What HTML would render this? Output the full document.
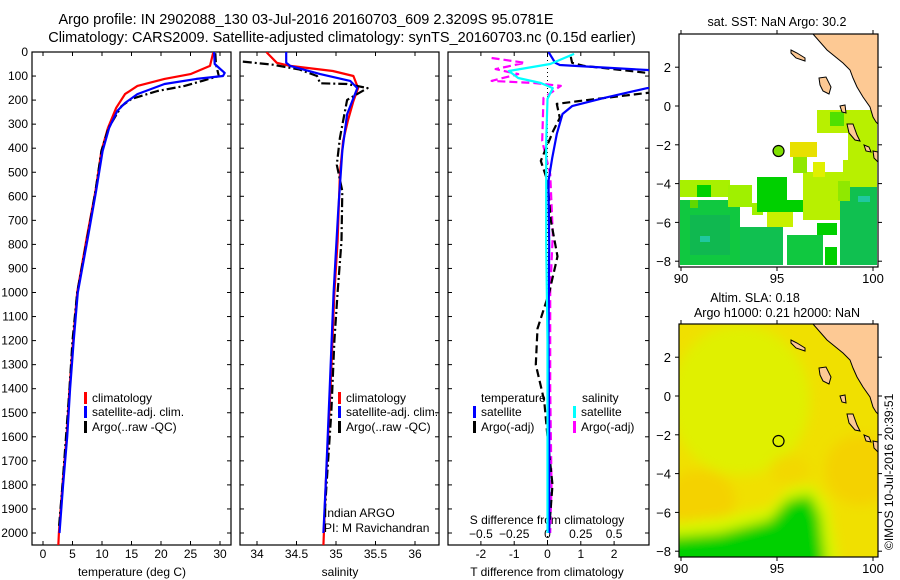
<!DOCTYPE html>
<html><head><meta charset="utf-8"><style>
html,body{margin:0;padding:0;background:#fff;width:900px;height:580px;overflow:hidden}
svg{display:block;font-family:"Liberation Sans",sans-serif}
text{font-size:12px;fill:#000}
</style></head><body>
<svg id="root" width="900" height="580" viewBox="0 0 900 580">
<defs>
<clipPath id="c1"><rect x="32" y="52" width="199" height="493"/></clipPath>
<clipPath id="c2"><rect x="240" y="52" width="199" height="493"/></clipPath>
<clipPath id="c3"><rect x="448" y="52" width="201" height="493"/></clipPath>
<clipPath id="cm1"><rect x="679" y="34" width="199" height="233"/></clipPath>
<clipPath id="cm2"><rect x="679" y="324" width="199" height="233"/></clipPath>
<filter id="blur" x="-30%" y="-30%" width="160%" height="160%"><feGaussianBlur stdDeviation="6"/></filter>
</defs>
<text x="306" y="24" text-anchor="middle" style="font-size:14.5px">Argo profile: IN 2902088_130 03-Jul-2016 20160703_609 2.3209S 95.0781E</text>
<text x="342" y="42" text-anchor="middle" style="font-size:14.5px">Climatology: CARS2009. Satellite-adjusted climatology: synTS_20160703.nc (0.15d earlier)</text>
<g id="axes"></g>
<g id="maps"></g>
<text transform="translate(893,550) rotate(-90)" style="font-size:12px">©IMOS 10-Jul-2016 20:39:51</text>
</svg>
<script>
// ---- profile data (depth in m) ----
const tempClimDepth=[0,8,58,92,112,141,175,232,316,412,578,773,1000,1200,1400,1600,1800,1900,2000,2054];
const tempClimVal=[29,28.8,28.3,25,20.6,16,13.9,12.4,11,9.9,8.9,7.4,5.8,5.1,4.5,4.0,3.3,3.0,2.7,2.6];
const tempSatDepth=[0,50,87,100,112,133,175,212,245,316,412,578,773,1000,1200,1400,1600,1800,2000];
const tempSatVal=[29,29.1,30.8,30.5,26,20.6,16,13.9,12.6,11.2,10.1,9.0,7.6,5.9,5.2,4.6,4.1,3.4,2.8];
const tempArgoDepth=[5,50,100,120,141,162,195,225,316,412,578,773,1000,1200,1400,1600,1800,1980];
const tempArgoVal=[29.2,29.3,29.8,27,24,19.4,15,13.3,11.1,9.9,8.9,7.5,5.8,5.0,4.5,3.9,3.3,2.7];
const salClimDepth=[0,8,45,58,79,100,150,204,287,370,507,786,1000,1400,1800,2054];
const salClimVal=[34.12,34.14,34.25,34.42,34.96,35.22,35.28,35.22,35.15,35.09,35.05,35.02,34.98,34.93,34.87,34.84];
const salSatDepth=[0,45,58,92,120,150,259,412,648,1000,1400,1800,2000];
const salSatVal=[34.37,34.37,34.42,34.8,35.18,35.27,35.14,35.08,35.03,34.97,34.92,34.87,34.84];
const salArgoDepth=[40,53,73,100,130,133,150,199,287,357,469,578,786,1000,1200,1500,1800,1960];
const salArgoVal=[33.82,34.2,34.54,34.76,34.8,35.14,35.4,35.14,35.09,35.05,35.01,35.08,35.07,35.02,34.98,34.94,34.88,34.85];
const dTSatDepth=[0,45,54,75,100,140,150,191,225,258,341,441,536,800,1200,1600,2000];
const dTSatVal=[0.03,0.23,0.37,3,6,6,3,1.7,0.74,0.45,0.28,0.14,0.03,0.05,0.03,0.05,0.05];
const dTArgoDepth=[20,45,58,87,100,150,170,204,216,274,328,453,536,700,850,1000,1150,1300,1450,1600,1800,1980];
const dTArgoVal=[0.7,0.74,1.1,3,6,6,3,0.93,0.28,0.37,0.17,-0.2,0,0.1,0.3,0.05,-0.3,-0.35,-0.1,0,0.15,0.05];
const dSSatDepth=[8,50,79,108,129,150,195,370,800,1200,1600,2000];
const dSSatVal=[0.2,0.02,-0.29,-0.22,-0.05,0.04,0,-0.01,-0.01,0,0,0];
const dSArgoDepth=[25,45,71,92,120,129,141,191,370,507,757,1000,1400,1800,2000];
const dSArgoVal=[-0.42,-0.17,-0.39,-0.22,-0.42,-0.1,0.1,-0.03,-0.04,0.02,0.04,0.02,0.02,0.03,0.02];
const depthTicks=[0,100,200,300,400,500,600,700,800,900,1000,1100,1200,1300,1400,1500,1600,1700,1800,1900,2000];
const tempTicks=[0,5,10,15,20,25,30];
const salTicks=[34,34.5,35,35.5,36];
const dTTicks=[-2,-1,0,1,2];
const dSTicks=[-0.5,-0.25,0,0.25,0.5];

const NS='http://www.w3.org/2000/svg';
const G=document.getElementById('axes');
function el(tag,attrs,parent){const e=document.createElementNS(NS,tag);for(const k in attrs)e.setAttribute(k,attrs[k]);(parent||G).appendChild(e);return e;}
function txt(x,y,s,anchor,parent){const t=el('text',{x:x,y:y,'text-anchor':anchor||'start'},parent);t.textContent=s;return t;}
const yD=d=>52+d*0.2405;
const xT=t=>43+t*5.9;
const xS=s=>257+(s-34)*79;
const xdT=v=>547.5+v*33.3;
const xdS=v=>547.5+v*133.2;
const P=[{x:32,w:199},{x:240,w:199},{x:448,w:201}];

P.forEach((p,i)=>{
  const r=el('rect',{x:p.x,y:52,width:p.w,height:493,fill:'none',stroke:'#000','stroke-width':1.2});
  
  
  depthTicks.forEach(d=>{
    el('line',{x1:p.x,x2:p.x+4,y1:yD(d),y2:yD(d),stroke:'#000'});
    el('line',{x1:p.x+p.w-4,x2:p.x+p.w,y1:yD(d),y2:yD(d),stroke:'#000'});
  });
});
depthTicks.forEach(d=>{
  const t=txt(28,yD(d)+4,String(d),'end');
  
  
});
function xticks(vals,fx,p,labelY,fmt){
  vals.forEach(v=>{
    const x=fx(v);
    el('line',{x1:x,x2:x,y1:52,y2:56,stroke:'#000'});
    el('line',{x1:x,x2:x,y1:541,y2:545,stroke:'#000'});
    if(labelY){const t=txt(x,labelY,fmt?fmt(v):String(v),'middle');
      
      }
  });
}
xticks(tempTicks,xT,P[0],558);
xticks(salTicks,xS,P[1],558);
xticks(dTTicks,xdT,P[2],558);
dSTicks.forEach(v=>{const t=txt(xdS(v),538,String(v).replace('-','\u2212'),'middle');
  
  });
[['temperature (deg C)',132,'temp-axis-title'],['salinity',340,'salinity-axis-title'],['T difference from climatology',547,'tdiff-axis-title']].forEach(a=>{
  const t=txt(a[1],576,a[0],'middle');});
{const t=txt(547,524,'S difference from climatology','middle');}
{const z=el('line',{x1:xdT(0),x2:xdT(0),y1:52,y2:545,stroke:'#000','stroke-dasharray':'1,3'});
}

function series(depths,vals,fx,clip,color,dash,name){
  const pts=depths.map((d,i)=>fx(vals[i]).toFixed(1)+','+yD(d).toFixed(1)).join(' ');
  const pl=el('polyline',{points:pts,fill:'none',stroke:color,'stroke-width':2.2,'clip-path':'url(#'+clip+')','stroke-linejoin':'round'});
  if(dash)pl.setAttribute('stroke-dasharray',dash);
  
  
}
series(tempClimDepth,tempClimVal,xT,'c1','#ff0000',null,'temp-climatology-line');
series(tempArgoDepth,tempArgoVal,xT,'c1','#000',"9,3,2,3",'temp-argo-line');
series(tempSatDepth,tempSatVal,xT,'c1','#0000ff',null,'temp-satellite-line');
series(salClimDepth,salClimVal,xS,'c2','#ff0000',null,'salinity-climatology-line');
series(salArgoDepth,salArgoVal,xS,'c2','#000',"9,3,2,3",'salinity-argo-line');
series(salSatDepth,salSatVal,xS,'c2','#0000ff',null,'salinity-satellite-line');
series(dSArgoDepth,dSArgoVal,xdS,'c3','#ff00ff',"8,4",'sdiff-argo-line');
series(dTArgoDepth,dTArgoVal,xdT,'c3','#000',"8,4",'tdiff-argo-line');
series(dTSatDepth,dTSatVal,xdT,'c3','#0000ff',null,'tdiff-satellite-line');
series(dSSatDepth,dSSatVal,xdS,'c3','#00ffff',null,'sdiff-satellite-line');

function legend(x,y,color,label,name){
  el('rect',{x:x,y:y-10,width:3,height:12,fill:color});
  const t=txt(x+8,y,label);
  
  
}
legend(84,402,'#ff0000','climatology','legend-climatology');
legend(84,416,'#0000ff','satellite-adj. clim.','legend-satellite-adj');
legend(84,431,'#000','Argo(..raw -QC)','legend-argo');
legend(338,402,'#ff0000','climatology','legend-climatology-2');
legend(338,416,'#0000ff','satellite-adj. clim.','legend-satellite-adj-2');
legend(338,431,'#000','Argo(..raw -QC)','legend-argo-2');
{const t=txt(481,402,'temperature');}
{const t=txt(582,402,'salinity');}
legend(473,416,'#0000ff','satellite','legend-t-satellite');
legend(473,431,'#000','Argo(-adj)','legend-t-argo');
legend(573,416,'#00ffff','satellite','legend-s-satellite');
legend(573,431,'#ff00ff','Argo(-adj)','legend-s-argo');
{const t=txt(324,517,'Indian ARGO');}
{const t=txt(324,532,'PI: M Ravichandran');}

// ---- maps ----
const M=document.getElementById('maps');
const lonX=lon=>681+(lon-90)*19.2;
function mapFrame(name){
  const g=el('g',{},M);
  
  
  return {g:g};
}
const m1=mapFrame('sst-map');
const sstCells=[
 [680,200,60,65,'#10c840'],[680,180,50,17,'#a8f000'],[728,185,24,22,'#a0f000'],[752,203,11,12,'#a0f000'],
 [697,185,14,12,'#00d000'],[740,227,43,38,'#10c050'],[757,177,30,35,'#00d000'],[767,212,26,15,'#c8f000'],
 [783,200,40,12,'#00d000'],[787,235,36,30,'#10c840'],[803,172,50,48,'#b8f000'],[817,223,20,12,'#00d000'],
 [840,187,37,78,'#10c050'],[825,247,12,18,'#00d000'],[843,160,34,27,'#b8f000'],[793,157,14,16,'#90e800'],
 [790,142,27,15,'#e8e000'],[813,162,12,15,'#e0f000'],[817,110,60,23,'#b8f000'],[830,112,14,14,'#50e000'],
 [848,133,29,27,'#b8f000'],[690,215,40,40,'#10b850'],[700,236,10,6,'#20c8a0'],[858,196,12,6,'#20c8a0'],
 [838,181,12,20,'#90e800'],[690,200,8,8,'#60d800']];
sstCells.forEach(c=>{const r=el('rect',{x:c[0],y:c[1],width:c[2],height:c[3],fill:c[4],'clip-path':'url(#cm1)'},m1.g);
  });
const m2=mapFrame('sla-map');
const slaG=el('g',{'clip-path':'url(#cm2)'},m2.g);
el('rect',{x:679,y:324,width:199,height:233,fill:'#f0e000'},slaG);
const bl=el('g',{filter:'url(#blur)'},slaG);
el('ellipse',{cx:740,cy:400,rx:70,ry:75,fill:'#e0f000'},bl);
el('ellipse',{cx:700,cy:500,rx:35,ry:30,fill:'#f4d200'},bl);
el('ellipse',{cx:860,cy:470,rx:35,ry:35,fill:'#f4d200'},bl);
el('ellipse',{cx:790,cy:470,rx:20,ry:15,fill:'#f2d800'},bl);
el('path',{d:'M660,600 L660,525 L720,518 L770,508 L790,488 L812,485 L828,505 L835,545 L845,600 Z',fill:'#d8f800'},bl);
el('path',{d:'M660,600 L660,538 L720,533 L770,520 L788,500 L810,495 L820,515 L825,560 L832,600 Z',fill:'#00d000'},bl);
function land(g,dy){
  const lg=el('g',{fill:'#fdc994',stroke:'#000','stroke-width':1},g);
  el('path',{d:`M813,${34+dy} L827,${50+dy} L843,${63+dy} L850,${70+dy} L853,${78+dy} L857,${87+dy} L863,${97+dy} L870,${107+dy} L873,${117+dy} L876,${122+dy} L878,${124+dy} L878,${34+dy} Z`},lg);
  el('path',{d:`M791,${50+dy} L797,${53+dy} L805,${58+dy} L805,${61+dy} L796,${58+dy} L791,${53+dy} Z`},lg);
  el('path',{d:`M819,${78+dy} L826,${77+dy} L831,${87+dy} L829,${94+dy} L823,${91+dy} L820,${85+dy} Z`},lg);
  el('path',{d:`M847,${124+dy} L853,${124+dy} L857,${135+dy} L860,${141+dy} L855,${140+dy} L849,${133+dy} Z`},lg);
  el('path',{d:`M864,${145+dy} L869,${147+dy} L871,${152+dy} L866,${151+dy} Z`},lg);
  el('path',{d:`M840,${106+dy} L845,${105+dy} L846,${113+dy} L842,${112+dy} Z`},lg);
  el('path',{d:`M873,${151+dy} L878,${152+dy} L878,${162+dy} L874,${158+dy} Z`},lg);
}
const land1=el('g',{'clip-path':'url(#cm1)'},m1.g);land(land1,0);
const land2=el('g',{'clip-path':'url(#cm2)'},m2.g);land(land2,290);
el('rect',{x:869,y:324,width:9,height:12,fill:'#b8f000'},slaG);
[[m1,34,106],[m2,324,396]].forEach(([m,top,zy],k)=>{
  el('rect',{x:679,y:top,width:199,height:233,fill:'none',stroke:'#000','stroke-width':1.2},m.g);
  [90,95,100].forEach(lon=>{const x=lonX(lon);
    el('line',{x1:x,x2:x,y1:top-4,y2:top,stroke:'#000'},m.g);
    el('line',{x1:x,x2:x,y1:top+233,y2:top+237,stroke:'#000'},m.g);
    const t=txt(x,top+249,String(lon),'middle',m.g);t.style.fontSize='13px';
    });
  [2,0,-2,-4,-6,-8].forEach(lat=>{const y=zy-lat*19.4;
    el('line',{x1:675,x2:679,y1:y,y2:y,stroke:'#000'},m.g);
    el('line',{x1:878,x2:882,y1:y,y2:y,stroke:'#000'},m.g);
    const t=txt(671,y+5,String(lat).replace('-','\u2212'),'end',m.g);t.style.fontSize='13px';
    });
  const c=el('circle',{cx:lonX(95.08),cy:zy+2.32*19.4,r:5.5,fill:k==0?'#80e000':'none',stroke:'#000','stroke-width':1.2},m.g);
  
});
{const t=txt(777,26,'sat. SST: NaN Argo: 30.2','middle',M);t.style.fontSize='12.5px';}
{const t=txt(755,302,'Altim. SLA: 0.18','middle',M);t.style.fontSize='12.5px';}
{const t=txt(777,317,'Argo h1000: 0.21 h2000: NaN','middle',M);t.style.fontSize='12.5px';}
</script>
</body></html>
